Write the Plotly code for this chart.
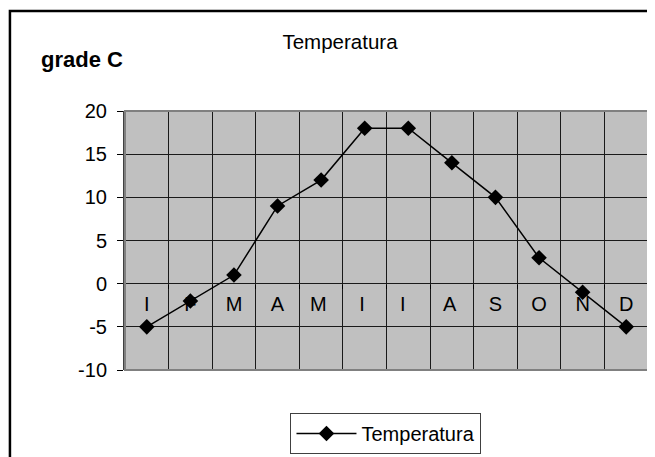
import plotly.graph_objects as go

months = ["I", "F", "M", "A", "M ", "I ", "I  ", "A ", "S", "O", "N", "D"]
temps = [-5, -2, 1, 9, 12, 18, 18, 14, 10, 3, -1, -5]
y_ticks = [20, 15, 10, 5, 0, -5, -10]
y_tick_text = ["20", "15", "10", "5", "0", "-5", "-10"]
series_name = "Temperatura"
title_text = "Temperatura"
y_title = "grade C"

FONT = "Liberation Sans, Arial, sans-serif"
FS = 20
W, H = 647, 449  # page body has an 8px margin

fig = go.Figure()
fig.add_trace(go.Scatter(
    x=months, y=temps, mode="lines+markers", name=series_name,
    line=dict(color="black", width=1.5),
    marker=dict(symbol="diamond", size=12, color="black"),
))

fig.update_layout(
    width=W, height=H,
    margin=dict(l=117, r=7, t=103, b=87, autoexpand=False),
    paper_bgcolor="white",
    plot_bgcolor="#C0C0C0",
    font=dict(family=FONT, size=FS, color="black"),
    title=dict(text=title_text, x=332/W, xref="container", xanchor="center",
               y=1-34/H, yref="container", yanchor="middle",
               font=dict(family=FONT, size=20.5, color="black")),
    showlegend=True,
    legend=dict(x=0.499, y=-0.245, xanchor="center", yanchor="middle",
                bordercolor="#404040", borderwidth=1, bgcolor="white",
                itemwidth=60,
                font=dict(family=FONT, size=FS, color="black")),
    xaxis=dict(type="category", tickson="boundaries", showgrid=True,
               range=[-0.5, 11.5], automargin=False,
               gridcolor="#1a1a1a", gridwidth=1, anchor="free", position=1/3,
               showline=False, ticks="outside", ticklen=4, tickcolor="black",
               zeroline=False, ticklabelstandoff=6,
               tickfont=dict(family=FONT, size=FS, color="black")),
    yaxis=dict(range=[-10, 20], tickvals=y_ticks, ticktext=y_tick_text,
               showgrid=True, automargin=False,
               gridcolor="#1a1a1a", gridwidth=1, zeroline=False,
               showline=True, linecolor="#404040", linewidth=2,
               ticks="outside", ticklen=6, tickcolor="black",
               ticklabelstandoff=6,
               tickfont=dict(family=FONT, size=FS, color="black")),
)

# plot-area border
fig.add_shape(type="rect", xref="paper", yref="paper", x0=0, y0=0, x1=1, y1=1,
              line=dict(color="#808080", width=2), fillcolor="rgba(0,0,0,0)", layer="above")
# outer chart frame (left and top edges visible)
fig.add_shape(type="path", xref="paper", yref="paper",
              path="M -0.22,-0.40 L -0.22,1.386 L 1.03,1.386",
              line=dict(color="black", width=2.5))

fig.add_annotation(text="<b>" + y_title + "</b>", xref="paper", yref="paper",
                   x=(39-125)/523, y=(370-60)/259, xanchor="left", yanchor="middle",
                   showarrow=False, font=dict(family=FONT, size=22, color="black"))

fig.write_html("out.html")
